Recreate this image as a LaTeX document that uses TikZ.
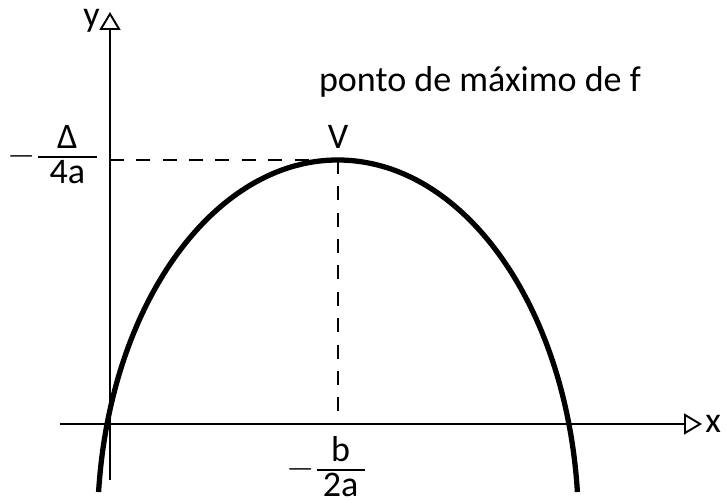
\documentclass[tikz,border=0pt]{standalone}
\usepackage{amsmath, amssymb}
\usepackage{fontspec}
\setmainfont{Carlito}
\usetikzlibrary{positioning,arrows.meta}

\begin{document}
\begin{tikzpicture}[>={Triangle[open,length=0.36cm,width=0.42cm]}, every node/.style={font=\fontsize{20.5}{24}\selectfont},
  eixo/.style={line width=1.1pt},
  curva/.style={line width=3pt, line cap=butt},
  guia/.style={line width=1.1pt, dash pattern=on 8pt off 7pt}]
  \useasboundingbox (-2.2,-1.6) rectangle (12.34,8.48);
  \coordinate (xa) at (-1.0,0);
  \coordinate (xb) at (11.84,0);
  \coordinate (ya) at (0,-1.12);
  \coordinate (yb) at (0,8.24);
  \coordinate (c) at (4.56,-2.05);
  \coordinate (v) at (4.56,5.28);
  \coordinate (vx) at (4.56,0);
  \coordinate (vy) at (0,5.28);
  \draw[eixo, ->] (xa) -- (xb);
  \draw[eixo, ->] (ya) -- (yb);
  \draw[guia] (vy) -- (v);
  \draw[guia] (v) -- (vx);
  % parabola drawn as an elliptic arc through the vertex
  \draw[curva] (c) ++(174.6:4.81 and 7.33) arc[start angle=174.6, end angle=5.4, x radius=4.81, y radius=7.33];
  \node[right=0.06cm of xb, inner sep=0] (lx) {x};
  \node[anchor=east, inner sep=0] (ly) at (-0.2,8.06) {y};
  \node[above=0.1cm of v] (lv) {V};
  \node[anchor=base] (lmax) at (7.4,6.64) {ponto de máximo de f};
  \node[anchor=base east, inner sep=0] (lk) at (-0.22,5.16)
    {$-\tfrac{\raisebox{2pt}{\mbox{Δ}}}{\raisebox{-3pt}{\mbox{\hspace{6.5pt}4a\hspace{6.5pt}}}}$};
  \node[anchor=base east, inner sep=0] (lh) at (5.14,-1.10)
    {$-\tfrac{\raisebox{2pt}{\mbox{b}}}{\raisebox{-3pt}{\mbox{\hspace{3.5pt}2a\hspace{3.5pt}}}}$};
\end{tikzpicture}
\end{document}
